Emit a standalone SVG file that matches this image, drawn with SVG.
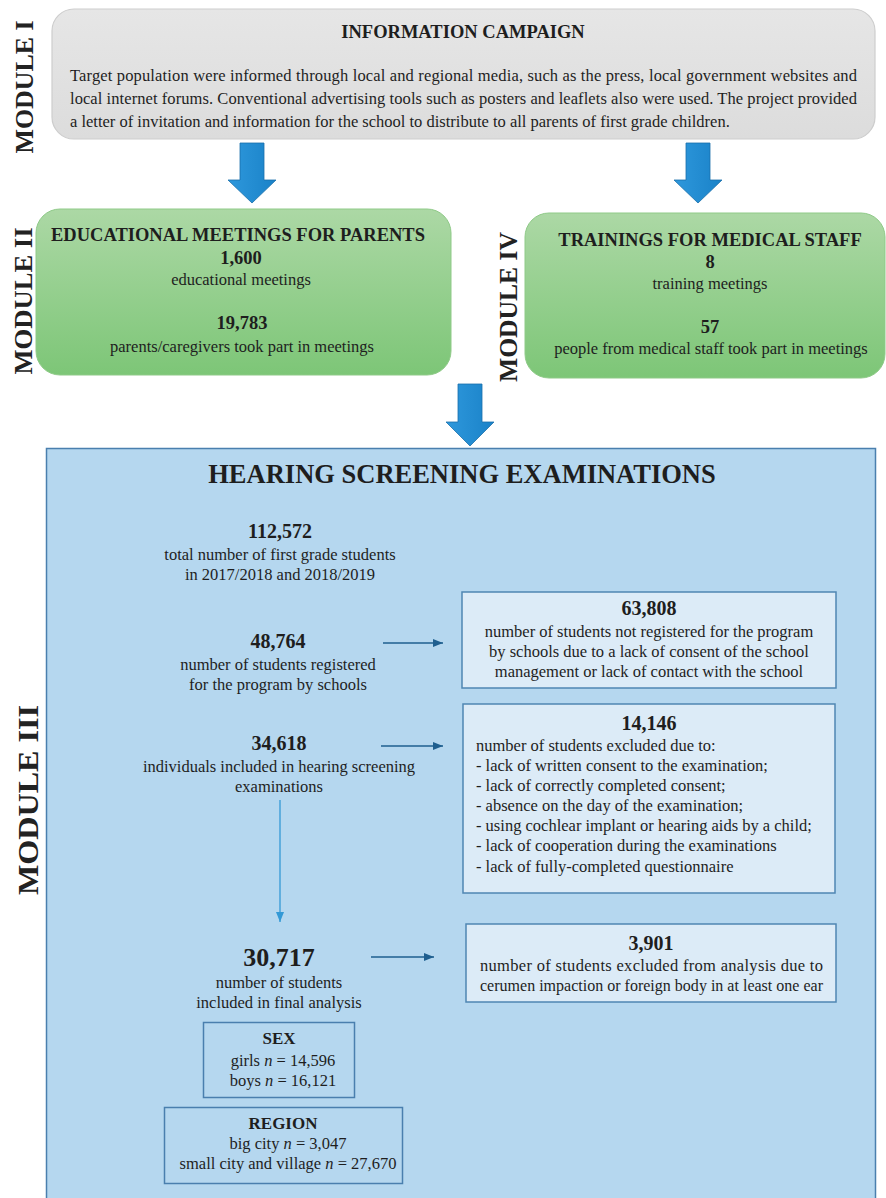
<svg xmlns="http://www.w3.org/2000/svg" width="886" height="1198" viewBox="0 0 886 1198">
<defs>
<linearGradient id="gGreen" x1="0" y1="0" x2="0" y2="1">
<stop offset="0" stop-color="#acd8a5"/>
<stop offset="1" stop-color="#7dc677"/>
</linearGradient>
<linearGradient id="gGray" x1="0" y1="0" x2="0" y2="1">
<stop offset="0" stop-color="#e6e6e6"/>
<stop offset="1" stop-color="#dcdcdc"/>
</linearGradient>
<linearGradient id="gArrow" x1="0" y1="0" x2="1" y2="0">
<stop offset="0" stop-color="#2e98dc"/>
<stop offset="1" stop-color="#1a82c8"/>
</linearGradient>
<marker id="mDark" viewBox="0 0 10 8" refX="10" refY="4" markerWidth="10" markerHeight="8" markerUnits="userSpaceOnUse" orient="auto">
<path d="M0,0 L10,4 L0,8 z" fill="#1f5f8f"/>
</marker>
<marker id="mLight" viewBox="0 0 10 8" refX="10" refY="4" markerWidth="10" markerHeight="8" markerUnits="userSpaceOnUse" orient="auto">
<path d="M0,0 L10,4 L0,8 z" fill="#3399d6"/>
</marker>
</defs>
<style>
text{font-family:"Liberation Serif","Times New Roman",serif;fill:#1e1e1e}
.mod{font-size:26px;font-weight:bold;fill:#222}
.t{font-size:16.5px}
.b{font-weight:bold}
.c{text-anchor:middle}
.h{font-size:18.5px;font-weight:bold}
.num{font-size:20px;font-weight:bold}
.i{font-style:italic}
.sub{fill:#dcebf7;stroke:#4f86b3;stroke-width:1.5}
.bigarrow{fill:url(#gArrow);stroke:#1b70ab;stroke-width:0.8}
.conn{stroke:#1f5f8f;stroke-width:1.3;fill:none}
</style>
<rect width="886" height="1198" fill="#ffffff"/>

<!-- module labels -->
<g id="label-module-I"><text class="mod c" transform="translate(33,87) rotate(-90)" textLength="133" lengthAdjust="spacingAndGlyphs">MODULE I</text></g>
<g id="label-module-II"><text class="mod c" transform="translate(32,301) rotate(-90)" textLength="147" lengthAdjust="spacingAndGlyphs">MODULE II</text></g>
<g id="label-module-IV"><text class="mod c" transform="translate(517,307) rotate(-90)" textLength="150" lengthAdjust="spacingAndGlyphs">MODULE IV</text></g>
<g id="label-module-III"><text class="mod c" style="font-size:29px" transform="translate(38,800) rotate(-90)" textLength="190" lengthAdjust="spacingAndGlyphs">MODULE III</text></g>

<!-- Module I -->
<g id="module-I">
<rect x="52" y="9" width="823" height="130" rx="22" fill="url(#gGray)" stroke="#cdcdcd" stroke-width="1.2"/>
<text class="h c" x="463" y="38">INFORMATION CAMPAIGN</text>
<text class="t" x="70" y="81" textLength="787" lengthAdjust="spacing">Target population were informed through local and regional media, such as the press, local government websites and</text>
<text class="t" x="70" y="104" textLength="787" lengthAdjust="spacing">local internet forums. Conventional advertising tools such as posters and leaflets also were used. The project provided</text>
<text class="t" x="70" y="127">a letter of invitation and information for the school to distribute to all parents of first grade children.</text>
</g>

<!-- Module II -->
<g id="module-II">
<rect x="36" y="209" width="415" height="166" rx="24" fill="url(#gGreen)" stroke="#8fca88" stroke-width="1"/>
<text class="h c" x="238" y="241">EDUCATIONAL MEETINGS FOR PARENTS</text>
<text class="h c" x="241" y="264">1,600</text>
<text class="t c" x="241" y="285">educational meetings</text>
<text class="h c" x="242" y="329">19,783</text>
<text class="t c" x="242" y="352">parents/caregivers took part in meetings</text>
</g>

<!-- Module IV -->
<g id="module-IV">
<rect x="525" y="213" width="360" height="165" rx="24" fill="url(#gGreen)" stroke="#8fca88" stroke-width="1"/>
<text class="h c" x="710" y="246">TRAININGS FOR MEDICAL STAFF</text>
<text class="h c" x="710" y="268">8</text>
<text class="t c" x="710" y="289">training meetings</text>
<text class="h c" x="710" y="333">57</text>
<text class="t c" x="711" y="354">people from medical staff  took part in meetings</text>
</g>

<!-- Module III container -->
<g id="module-III">
<rect x="46.5" y="448.5" width="829" height="760" fill="#b5d7ef" stroke="#4a7fae" stroke-width="1.5"/>
<text class="b c" x="462" y="483" style="font-size:26.5px">HEARING SCREENING EXAMINATIONS</text>
</g>

<g id="n-112572">
<text class="num c" x="280" y="538">112,572</text>
<text class="t c" x="280" y="560">total number of first grade students</text>
<text class="t c" x="280" y="580">in 2017/2018 and 2018/2019</text>
</g>

<g id="n-48764">
<text class="num c" x="278" y="648">48,764</text>
<text class="t c" x="278" y="670">number of students registered</text>
<text class="t c" x="278" y="690">for the program by schools</text>
</g>

<g id="n-63808">
<rect class="sub" x="462" y="592" width="374" height="96"/>
<text class="num c" x="649" y="615">63,808</text>
<text class="t c" x="649" y="637">number of students not registered for the program</text>
<text class="t c" x="649" y="657">by schools due to a lack of consent of the school</text>
<text class="t c" x="649" y="677">management or lack of contact with the school</text>
</g>

<g id="n-34618">
<text class="num c" x="279" y="750">34,618</text>
<text class="t c" x="279" y="772">individuals included in hearing screening</text>
<text class="t c" x="279" y="792">examinations</text>
</g>

<g id="n-14146">
<rect class="sub" x="463" y="704" width="372" height="189"/>
<text class="num c" x="649" y="730">14,146</text>
<text class="t" x="476" y="751">number of students excluded due to:</text>
<text class="t" x="476" y="771">- lack of written consent to the examination;</text>
<text class="t" x="476" y="791">- lack of correctly completed consent;</text>
<text class="t" x="476" y="811">- absence on the day of the examination;</text>
<text class="t" x="476" y="831">- using cochlear implant or hearing aids by a child;</text>
<text class="t" x="476" y="851">- lack of cooperation during the examinations</text>
<text class="t" x="476" y="872">- lack of fully-completed questionnaire</text>
</g>

<g id="n-30717">
<text class="b c" x="279" y="966" style="font-size:26px">30,717</text>
<text class="t c" x="279" y="988">number of students</text>
<text class="t c" x="279" y="1008">included in final analysis</text>
</g>

<g id="n-3901">
<rect class="sub" x="466" y="924" width="370" height="78"/>
<text class="num c" x="651" y="950">3,901</text>
<text class="t" x="480" y="971" textLength="343" lengthAdjust="spacing">number of students excluded from analysis due to</text>
<text class="t" x="480" y="991" textLength="343" lengthAdjust="spacingAndGlyphs">cerumen impaction or foreign body in at least one ear</text>
</g>

<g id="n-sex">
<rect x="203.5" y="1022.5" width="151" height="75" fill="none" stroke="#4a7fae" stroke-width="1.5"/>
<text class="b c" x="279" y="1044" style="font-size:17px">SEX</text>
<text class="t c" x="283" y="1066">girls <tspan class="i">n</tspan> = 14,596</text>
<text class="t c" x="283" y="1086">boys <tspan class="i">n</tspan> = 16,121</text>
</g>

<g id="n-region">
<rect x="164.5" y="1107.5" width="238" height="76" fill="none" stroke="#4a7fae" stroke-width="1.5"/>
<text class="b c" x="283" y="1129" style="font-size:17px">REGION</text>
<text class="t c" x="288" y="1149">big city <tspan class="i">n</tspan> = 3,047</text>
<text class="t c" x="288" y="1169">small city and village <tspan class="i">n</tspan> = 27,670</text>
</g>

<!-- connectors -->
<g id="connectors">
<path class="bigarrow" d="M240,143 H264 V180 H276 L252,203 L228,180 H240 Z"/>
<path class="bigarrow" d="M686,143 H710 V180 H722 L698,203 L674,180 H686 Z"/>
<path class="bigarrow" d="M458,384 H482 V422 H494 L470,446 L446,422 H458 Z"/>
<line class="conn" x1="383" y1="643" x2="443" y2="643" marker-end="url(#mDark)"/>
<line class="conn" x1="381" y1="746" x2="443" y2="746" marker-end="url(#mDark)"/>
<line class="conn" x1="371" y1="957" x2="434" y2="957" marker-end="url(#mDark)"/>
<line x1="280" y1="800" x2="280" y2="922" stroke="#3399d6" stroke-width="1.3" marker-end="url(#mLight)"/>
</g>
</svg>
